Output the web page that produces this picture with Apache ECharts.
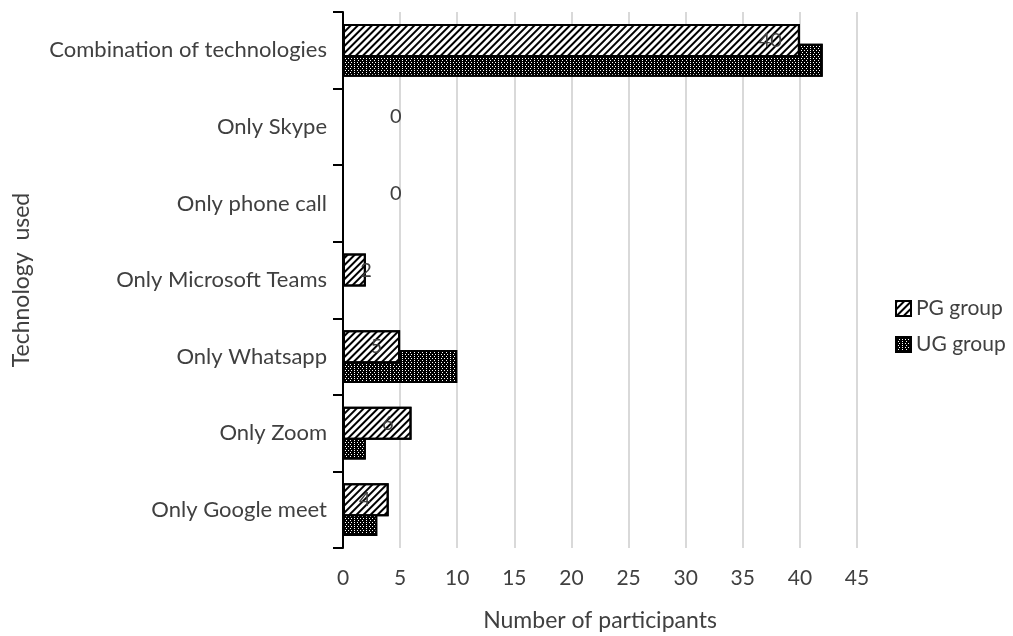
<!DOCTYPE html>
<html>
<head>
<meta charset="utf-8">
<script src="https://cdn.jsdelivr.net/npm/echarts@6/dist/echarts.min.js"></script>
<style>
  html, body { margin: 0; padding: 0; background: #fff; }
  #chart { width: 1013px; height: 636px; }
</style>
</head>
<body>
<div id="chart"></div>
<script>
// categories, bottom to top
const categories = [
  'Only Google meet',
  'Only Zoom',
  'Only Whatsapp',
  'Only Microsoft Teams',
  'Only phone call',
  'Only Skype',
  'Combination of technologies',
];
const pgGroup = [4, 6, 5, 2, 0, 0, 40];
const ugGroup = [3, 2, 10, 0, 0, 0, 42];
const xTicks = [0, 45, 5]; // min, max, interval

const font = 'Lato, "Open Sans", sans-serif';
const textColor = '#404040';

// labels sit inside the bar end, small / zero bars get pushed out
function pgLabel(v) {
  if (v === 0) {
    return { position: 'right', distance: 46 };
  }
  if (v < 4) {
    return { position: 'insideRight', distance: -6 };
  }
  return { position: 'insideRight', distance: 18 };
}

const chart = echarts.init(document.getElementById('chart'));

const option = {
  animation: false,
  textStyle: { fontFamily: font },
  grid: {
    left: 343, right: 156, top: 12, bottom: 88,
    outerBoundsMode: 'none',
  },
  legend: {
    data: ['PG group', 'UG group'],
    orient: 'vertical',
    left: 895,
    top: 298,
    padding: 0,
    icon: 'rect',
    itemWidth: 15,
    itemHeight: 15,
    itemGap: 15,
    textStyle: { fontSize: 21, color: textColor, fontFamily: font },
  },
  xAxis: {
    type: 'value',
    min: xTicks[0],
    max: xTicks[1],
    interval: xTicks[2],
    name: 'Number of participants',
    nameLocation: 'middle',
    nameGap: 61,
    nameTextStyle: { fontSize: 23, color: textColor },
    axisLine: { show: false },
    axisTick: { show: false },
    axisLabel: { fontSize: 21, color: textColor, margin: 20 },
    splitLine: { lineStyle: { color: '#d9d9d9', width: 2 } },
  },
  yAxis: {
    type: 'category',
    data: categories,
    name: 'Technology  used',
    nameLocation: 'middle',
    nameGap: 310,
    nameTextStyle: { fontSize: 23, color: textColor },
    axisLine: { show: true, lineStyle: { color: '#000', width: 2 } },
    axisTick: { show: true, length: 10, lineStyle: { color: '#000', width: 2 } },
    axisLabel: { fontSize: 22, color: textColor, margin: 16 },
  },
  series: [
    {
      name: 'PG group',
      type: 'bar',
      z: 3,
      barWidth: 33,
      barGap: '-40%',
      data: pgGroup.map((v) => ({ value: v, label: pgLabel(v) })),
      itemStyle: {
        color: '#fff',
        borderColor: '#000',
        borderWidth: 2,
        decal: {
          symbol: 'rect',
          color: '#000',
          dashArrayX: [1, 0],
          dashArrayY: [2, 3],
          rotation: -Math.PI / 4,
        },
      },
      label: {
        show: true,
        fontSize: 20,
        color: textColor,
        formatter: '{c}',
      },
    },
    {
      name: 'UG group',
      type: 'bar',
      z: 2,
      barWidth: 33,
      barGap: '-40%',
      data: ugGroup,
      itemStyle: {
        color: '#000',
        borderColor: '#000',
        borderWidth: 2,
        decal: {
          symbol: 'rect',
          color: '#fff',
          symbolSize: 1,
          dashArrayX: [[1, 2], [0, 1.5, 1, 0.5]],
          dashArrayY: [1, 0.5],
        },
      },
    },
  ],
};

chart.setOption(option);
</script>
</body>
</html>
